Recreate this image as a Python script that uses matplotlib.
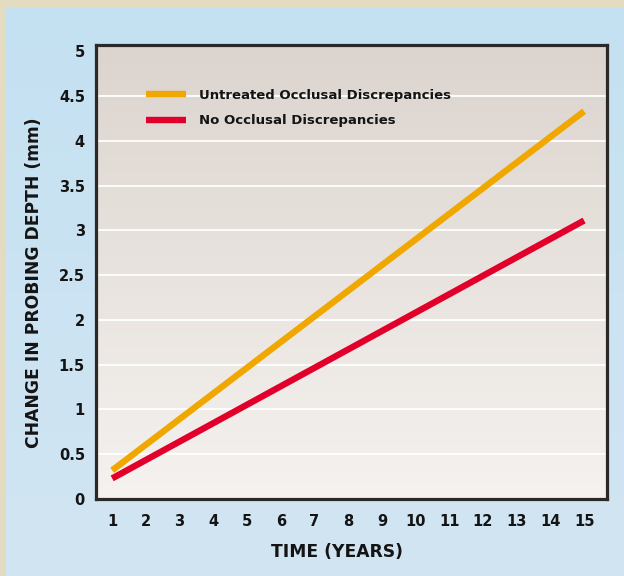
import numpy as np
import matplotlib.pyplot as plt
from matplotlib.lines import Line2D

# data (straight lines, endpoints)
years = [1, 15]
untreated = [0.32, 4.33]
no_discrepancy = [0.23, 3.11]
series_names = ['Untreated Occlusal Discrepancies', 'No Occlusal Discrepancies']
x_ticks = list(range(1, 16))
y_ticks = [0, 0.5, 1, 1.5, 2, 2.5, 3, 3.5, 4, 4.5, 5]
y_tick_labels = ['0', '0.5', '1', '1.5', '2', '2.5', '3', '3.5', '4', '4.5', '5']

orange = '#f0a800'
red = '#e2002b'
ink = '#141414'

fig = plt.figure(figsize=(6.24, 5.76), dpi=100)
fig.patch.set_facecolor('#e4dcc0')

# light blue panel with a soft vertical gradient
bg = fig.add_axes([6 / 624, 0, 618 / 624, 1 - 8 / 576])
bg.axis('off')
grad = np.linspace(0, 1, 256).reshape(-1, 1)
top_c = np.array([196, 225, 241]) / 255
bot_c = np.array([210, 229, 243]) / 255
img = top_c * (1 - grad[..., None]) + bot_c * grad[..., None]
bg.imshow(img, aspect='auto', extent=[0, 1, 0, 1])
bg.set_xlim(0, 1)
bg.set_ylim(0, 1)

ax = fig.add_axes([96 / 624, 1 - 499 / 576, 511 / 624, 454 / 576])

# plot area gradient (darker tan at top, near white at bottom)
p_top = np.array([220, 212, 206]) / 255
p_bot = np.array([245, 242, 239]) / 255
pimg = p_top * (1 - grad[..., None]) + p_bot * grad[..., None]
ax.imshow(pimg, aspect='auto', extent=[0, 1, 0, 1], transform=ax.transAxes, zorder=0)

for yv in y_ticks[1:-1]:
    ax.axhline(yv, color='white', lw=1.3, zorder=1)

ax.plot(years, untreated, color=orange, lw=4.6, solid_capstyle='butt', zorder=3)
ax.plot(years, no_discrepancy, color=red, lw=4.6, solid_capstyle='butt', zorder=3)

ax.set_xlim(0.52, 15.68)
ax.set_ylim(0, 5.07)
ax.set_xticks(x_ticks)
ax.set_yticks(y_ticks)
ax.set_yticklabels(y_tick_labels)
ax.tick_params(length=0, labelsize=10.5, colors=ink, pad=8)
ax.tick_params(axis='x', pad=11)
for lab in ax.get_xticklabels() + ax.get_yticklabels():
    lab.set_fontweight('bold')

for sp in ax.spines.values():
    sp.set_linewidth(2.3)
    sp.set_color('#2b2828')
    sp.set_zorder(5)

ax.set_ylabel('CHANGE IN PROBING DEPTH (mm)', fontsize=12.3, fontweight='bold', color=ink)
ax.yaxis.set_label_coords(-0.104, 0.477)
ax.set_xlabel('TIME (YEARS)', fontsize=12.3, fontweight='bold', color=ink)
ax.xaxis.set_label_coords(0.471, -0.098)

handles = [Line2D([], [], color=orange, lw=4.6, solid_capstyle='butt'),
           Line2D([], [], color=red, lw=4.6, solid_capstyle='butt')]
leg = ax.legend(handles, series_names, loc='upper left', bbox_to_anchor=(0.075, 0.93),
                frameon=False, handlelength=3.0, handletextpad=1.0, labelspacing=0.95,
                prop={'weight': 'bold', 'size': 9.5})
for t in leg.get_texts():
    t.set_color(ink)

fig.savefig('out.png', dpi=100, facecolor=fig.get_facecolor())
